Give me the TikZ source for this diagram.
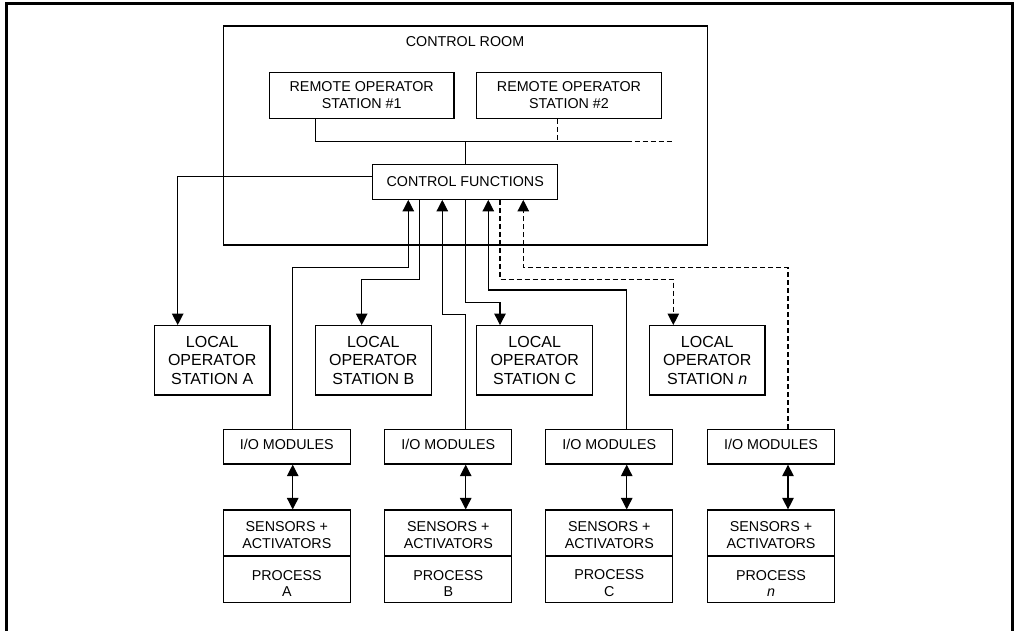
\documentclass[tikz,border=0pt]{standalone}
\usepackage{fontspec}
\setmainfont{Liberation Sans}
\usetikzlibrary{arrows.meta}

\tikzset{
  box/.style={draw, line width=1.2pt, inner sep=0pt, align=center,
              font=\fontsize{14.3}{16.8}\selectfont},
  localbox/.style={box, minimum width=115.7pt, minimum height=69.3pt,
                   font=\fontsize{16}{18.3}\selectfont},
  iobox/.style={box, minimum width=127pt, minimum height=34.7pt},
  sensbox/.style={box, minimum width=127pt, minimum height=46pt},
  procbox/.style={box, minimum width=127pt, minimum height=46.3pt},
  wire/.style={line width=1.2pt},
  dwire/.style={wire, dash pattern=on 5pt off 3pt},
  tip/.style={-{Triangle[length=11.5pt,width=11.5pt]}},
  arr/.style={wire, tip},
  darr/.style={wire, {Triangle[length=11.5pt,width=11.5pt]}-{Triangle[length=11.5pt,width=11.5pt]}},
  frameline/.style={line width=3.3pt}
}
% struts that move two-line labels within their boxes
\newcommand{\lowstrut}[1]{\rule{0pt}{#1}}
\newcommand{\iotext}{\rule[-4pt]{0pt}{4pt}I/O MODULES}

\begin{document}
\begin{tikzpicture}[x=1pt, y=-1pt]
  \useasboundingbox (0,0) rectangle (1014,631);

  % outer frame (open at the bottom)
  \draw[frameline] (6.5,631) -- (6.5,3.5) -- (1012.3,3.5) -- (1012.3,631);

  % control room
  \node[draw, line width=1.2pt, minimum width=484pt, minimum height=219pt, inner sep=0pt]
    (room) at (465.3,135.5) {};
  \node[font=\fontsize{14.3}{16.8}\selectfont] (roomlabel) at (465,42) {CONTROL ROOM};

  \node[box, minimum width=184.7pt, minimum height=46pt] (rs1) at (361.7,95.3)
    {REMOTE OPERATOR\\STATION \#1};
  \node[box, minimum width=184.7pt, minimum height=46pt] (rs2) at (569,95.3)
    {REMOTE OPERATOR\\STATION \#2};
  \node[box, minimum width=185pt, minimum height=35pt] (cf) at (465.2,181.8)
    {CONTROL FUNCTIONS};

  % local operator stations
  \node[localbox] (la) at (212.2,360.3) {LOCAL\\OPERATOR\\STATION A};
  \node[localbox] (lb) at (373.3,360.3) {LOCAL\\OPERATOR\\STATION B};
  \node[localbox] (lc) at (534.7,360.3) {LOCAL\\OPERATOR\\STATION C};
  \node[localbox] (ln) at (707.2,360.3) {LOCAL\\OPERATOR\\STATION \textit{n}};

  % I/O modules
  \node[iobox] (ioa) at (286.8,446.7) {\iotext};
  \node[iobox] (iob) at (448.3,446.7) {\iotext};
  \node[iobox] (ioc) at (609.3,446.7) {\iotext};
  \node[iobox] (ion) at (771,446.7) {\iotext};

  % sensors + activators over process
  \node[sensbox] (sa) at (286.8,533) {\lowstrut{13.8pt}SENSORS +\\ACTIVATORS};
  \node[sensbox] (sb) at (448.3,533) {\lowstrut{13.8pt}SENSORS +\\ACTIVATORS};
  \node[sensbox] (sc) at (609.3,533) {\lowstrut{13.8pt}SENSORS +\\ACTIVATORS};
  \node[sensbox] (sn) at (771,533) {\lowstrut{13.8pt}SENSORS +\\ACTIVATORS};
  \node[procbox] (pa) at (286.8,579.15) {\lowstrut{18.5pt}PROCESS\\A};
  \node[procbox] (pb) at (448.3,579.15) {\lowstrut{18.5pt}PROCESS\\B};
  \node[procbox] (pc) at (609.3,579.15) {\lowstrut{18.5pt}PROCESS\\C};
  \node[procbox] (pn) at (771,579.15) {\lowstrut{18.5pt}PROCESS\\\textit{n}};

  % lanes and bends
  \coordinate (bus1) at (315.7,141.7);
  \coordinate (bus2) at (557.7,141.7);
  \coordinate (busm) at (626.7,141.7);
  \coordinate (buse) at (671.7,141.7);
  \coordinate (xa) at (292.7,0);
  \coordinate (xb) at (465.7,0);
  \coordinate (xc) at (626.7,0);
  \coordinate (xn) at (788,0);
  \coordinate (k0) at (177.7,176.7);
  \coordinate (k1) at (408.3,267.7);
  \coordinate (k2) at (419.3,279.3);
  \coordinate (k3) at (361.7,279.3);
  \coordinate (k4) at (442.3,314.3);
  \coordinate (k5) at (465.7,302.7);
  \coordinate (k6) at (500,302.7);
  \coordinate (k7) at (488.3,290);
  \coordinate (k8) at (500,279.3);
  \coordinate (k9) at (673.3,279.3);
  \coordinate (k10) at (523.3,267.7);

  % operator bus
  \draw[wire] (rs1.south -| bus1) -- (bus1) -- (busm);
  \draw[dwire] (busm) -- (buse);
  \draw[dwire] (rs2.south -| bus2) -- (bus2);
  \draw[wire] (cf.north -| xb) -- (busm -| xb);

  % control functions to local stations
  \draw[arr] (cf.west |- k0) -- (k0) -- (k0 |- la.north);
  \draw[arr] (cf.south -| k2) -- (k2) -- (k3) -- (k3 |- lb.north);
  \draw[arr] (cf.south -| k5) -- (k5) -- (k6) -- (k6 |- lc.north);
  \draw[dwire, tip] (cf.south -| k8) -- (k8) -- (k9) -- (k9 |- ln.north);

  % I/O modules to control functions
  \draw[arr] (ioa.north -| xa) |- (k1) -- (k1 |- cf.south);
  \draw[arr] (iob.north -| xb) |- (k4) -- (k4 |- cf.south);
  \draw[arr] (ioc.north -| xc) |- (k7) -- (k7 |- cf.south);
  \draw[dwire, tip] (ion.north -| xn) |- (k10) -- (k10 |- cf.south);

  % I/O modules to sensors
  \draw[darr] (ioa.south -| xa) -- (sa.north -| xa);
  \draw[darr] (iob.south -| xb) -- (sb.north -| xb);
  \draw[darr] (ioc.south -| xc) -- (sc.north -| xc);
  \draw[darr] (ion.south -| xn) -- (sn.north -| xn);
\end{tikzpicture}
\end{document}
